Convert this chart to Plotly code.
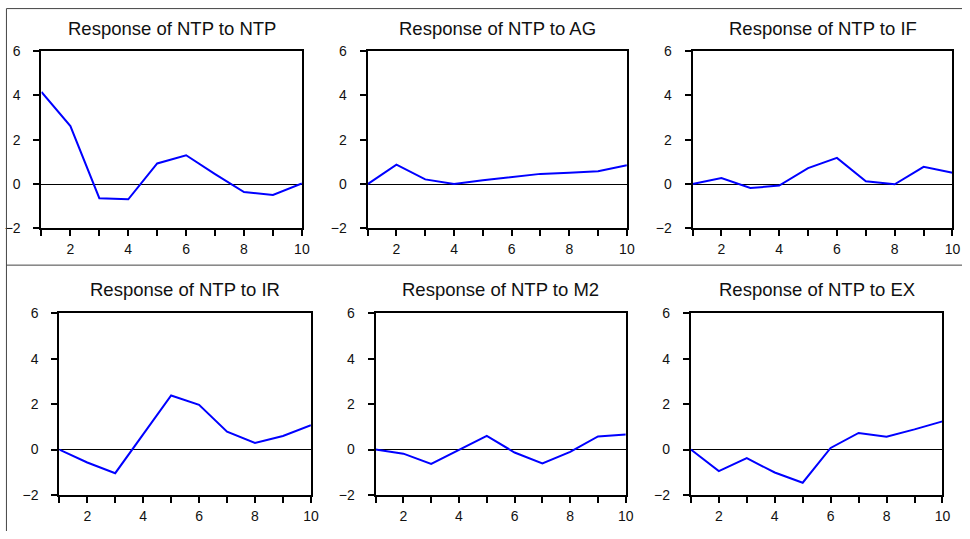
import plotly.graph_objects as go

periods = [1, 2, 3, 4, 5, 6, 7, 8, 9, 10]
titles = ["Response of NTP to NTP", "Response of NTP to AG", "Response of NTP to IF",
          "Response of NTP to IR", "Response of NTP to M2", "Response of NTP to EX"]
resp_ntp = [4.16, 2.62, -0.64, -0.69, 0.93, 1.30, 0.45, -0.36, -0.49, 0.03]
resp_ag = [0.0, 0.88, 0.21, 0.0, 0.17, 0.33, 0.46, 0.51, 0.58, 0.85]
resp_if = [0.0, 0.27, -0.18, -0.07, 0.72, 1.18, 0.13, -0.01, 0.78, 0.51]
resp_ir = [0.0, -0.57, -1.04, 0.68, 2.38, 1.97, 0.79, 0.29, 0.60, 1.07]
resp_m2 = [0.0, -0.18, -0.63, -0.03, 0.60, -0.13, -0.61, -0.10, 0.58, 0.66]
resp_ex = [0.0, -0.95, -0.38, -1.01, -1.46, 0.07, 0.73, 0.57, 0.89, 1.24]
y_ticks = [-2, 0, 2, 4, 6]
x_tick_labels = ["", "2", "", "4", "", "6", "", "8", "", "10"]

series = [resp_ntp, resp_ag, resp_if, resp_ir, resp_m2, resp_ex]

W, H = 970, 539
# plot-area pixel boxes (left, right, top, bottom)
boxes = [
    (41.8, 304.4, 44.5, 227.1),
    (370.7, 632.1, 44.5, 227.1),
    (698.3, 960.4, 44.5, 227.1),
    (59.8, 313.5, 314.6, 501.9),
    (378.7, 631.0, 314.6, 501.9),
    (696.6, 950.3, 314.6, 501.9),
]
title_y = [21, 21, 21, 290, 290, 290]

FONT = "Arial, 'Liberation Sans', sans-serif"
TXT = "#111111"
fig = go.Figure()
layout = dict(
    width=W, height=H, margin=dict(l=0, r=0, t=0, b=0),
    paper_bgcolor="white", plot_bgcolor="white", showlegend=False,
    font=dict(family=FONT, color=TXT),
)
annotations = []
for i, (vals, box, ttl, ty) in enumerate(zip(series, boxes, titles, title_y)):
    n = "" if i == 0 else str(i + 1)
    xa, ya = "x" + n, "y" + n
    fig.add_trace(go.Scatter(x=periods, y=vals, mode="lines",
                             line=dict(color="#0000FF", width=2),
                             xaxis=xa, yaxis=ya, hoverinfo="skip"))
    l, r, t, b = box
    layout["xaxis" + n] = dict(
        domain=[l / W, r / W], range=[1, 10], anchor=ya,
        tickvals=periods, ticktext=x_tick_labels, ticks="outside", ticklen=6,
        tickwidth=1.5, tickcolor="black", showline=True, linecolor="black",
        linewidth=2, mirror=True, showgrid=False, zeroline=False,
        ticklabelstandoff=1,
        tickfont=dict(size=14, family=FONT, color=TXT),
    )
    layout["yaxis" + n] = dict(
        domain=[1 - b / H, 1 - t / H], range=[-2, 6], anchor=xa,
        tickvals=y_ticks, ticks="outside", ticklen=6, tickwidth=1.5,
        tickcolor="black", showline=True, linecolor="black", linewidth=2,
        mirror=True, showgrid=False, zeroline=True, zerolinecolor="black",
        zerolinewidth=1, ticklabelstandoff=10,
        tickfont=dict(size=14, family=FONT, color=TXT),
    )
    annotations.append(dict(
        text=ttl, xref="paper", yref="paper", x=(l + r) / 2 / W, y=1 - ty / H,
        xanchor="center", yanchor="middle", showarrow=False,
        font=dict(size=18.5, family=FONT, color=TXT),
    ))

layout["annotations"] = annotations
layout["shapes"] = [
    dict(type="line", xref="paper", yref="paper", x0=6.5 / W, x1=1, y0=1 - 0.6 / H, y1=1 - 0.6 / H,
         line=dict(color="#444444", width=1)),
    dict(type="line", xref="paper", yref="paper", x0=6.5 / W, x1=1, y0=1 - 265 / H, y1=1 - 265 / H,
         line=dict(color="#444444", width=1)),
    dict(type="line", xref="paper", yref="paper", x0=6.5 / W, x1=6.5 / W, y0=0, y1=1 - 0.6 / H,
         line=dict(color="#444444", width=1)),
]
fig.update_layout(**layout)
post = (
    "document.documentElement.style.margin='0';"
    "document.body.style.margin='0';document.body.style.overflow='hidden';"
    "var gd=document.getElementById('{plot_id}');"
    "gd.style.position='fixed';gd.style.top='0px';gd.style.left='0px';"
)
fig.write_html("out.html", config={"displayModeBar": False}, post_script=post)
